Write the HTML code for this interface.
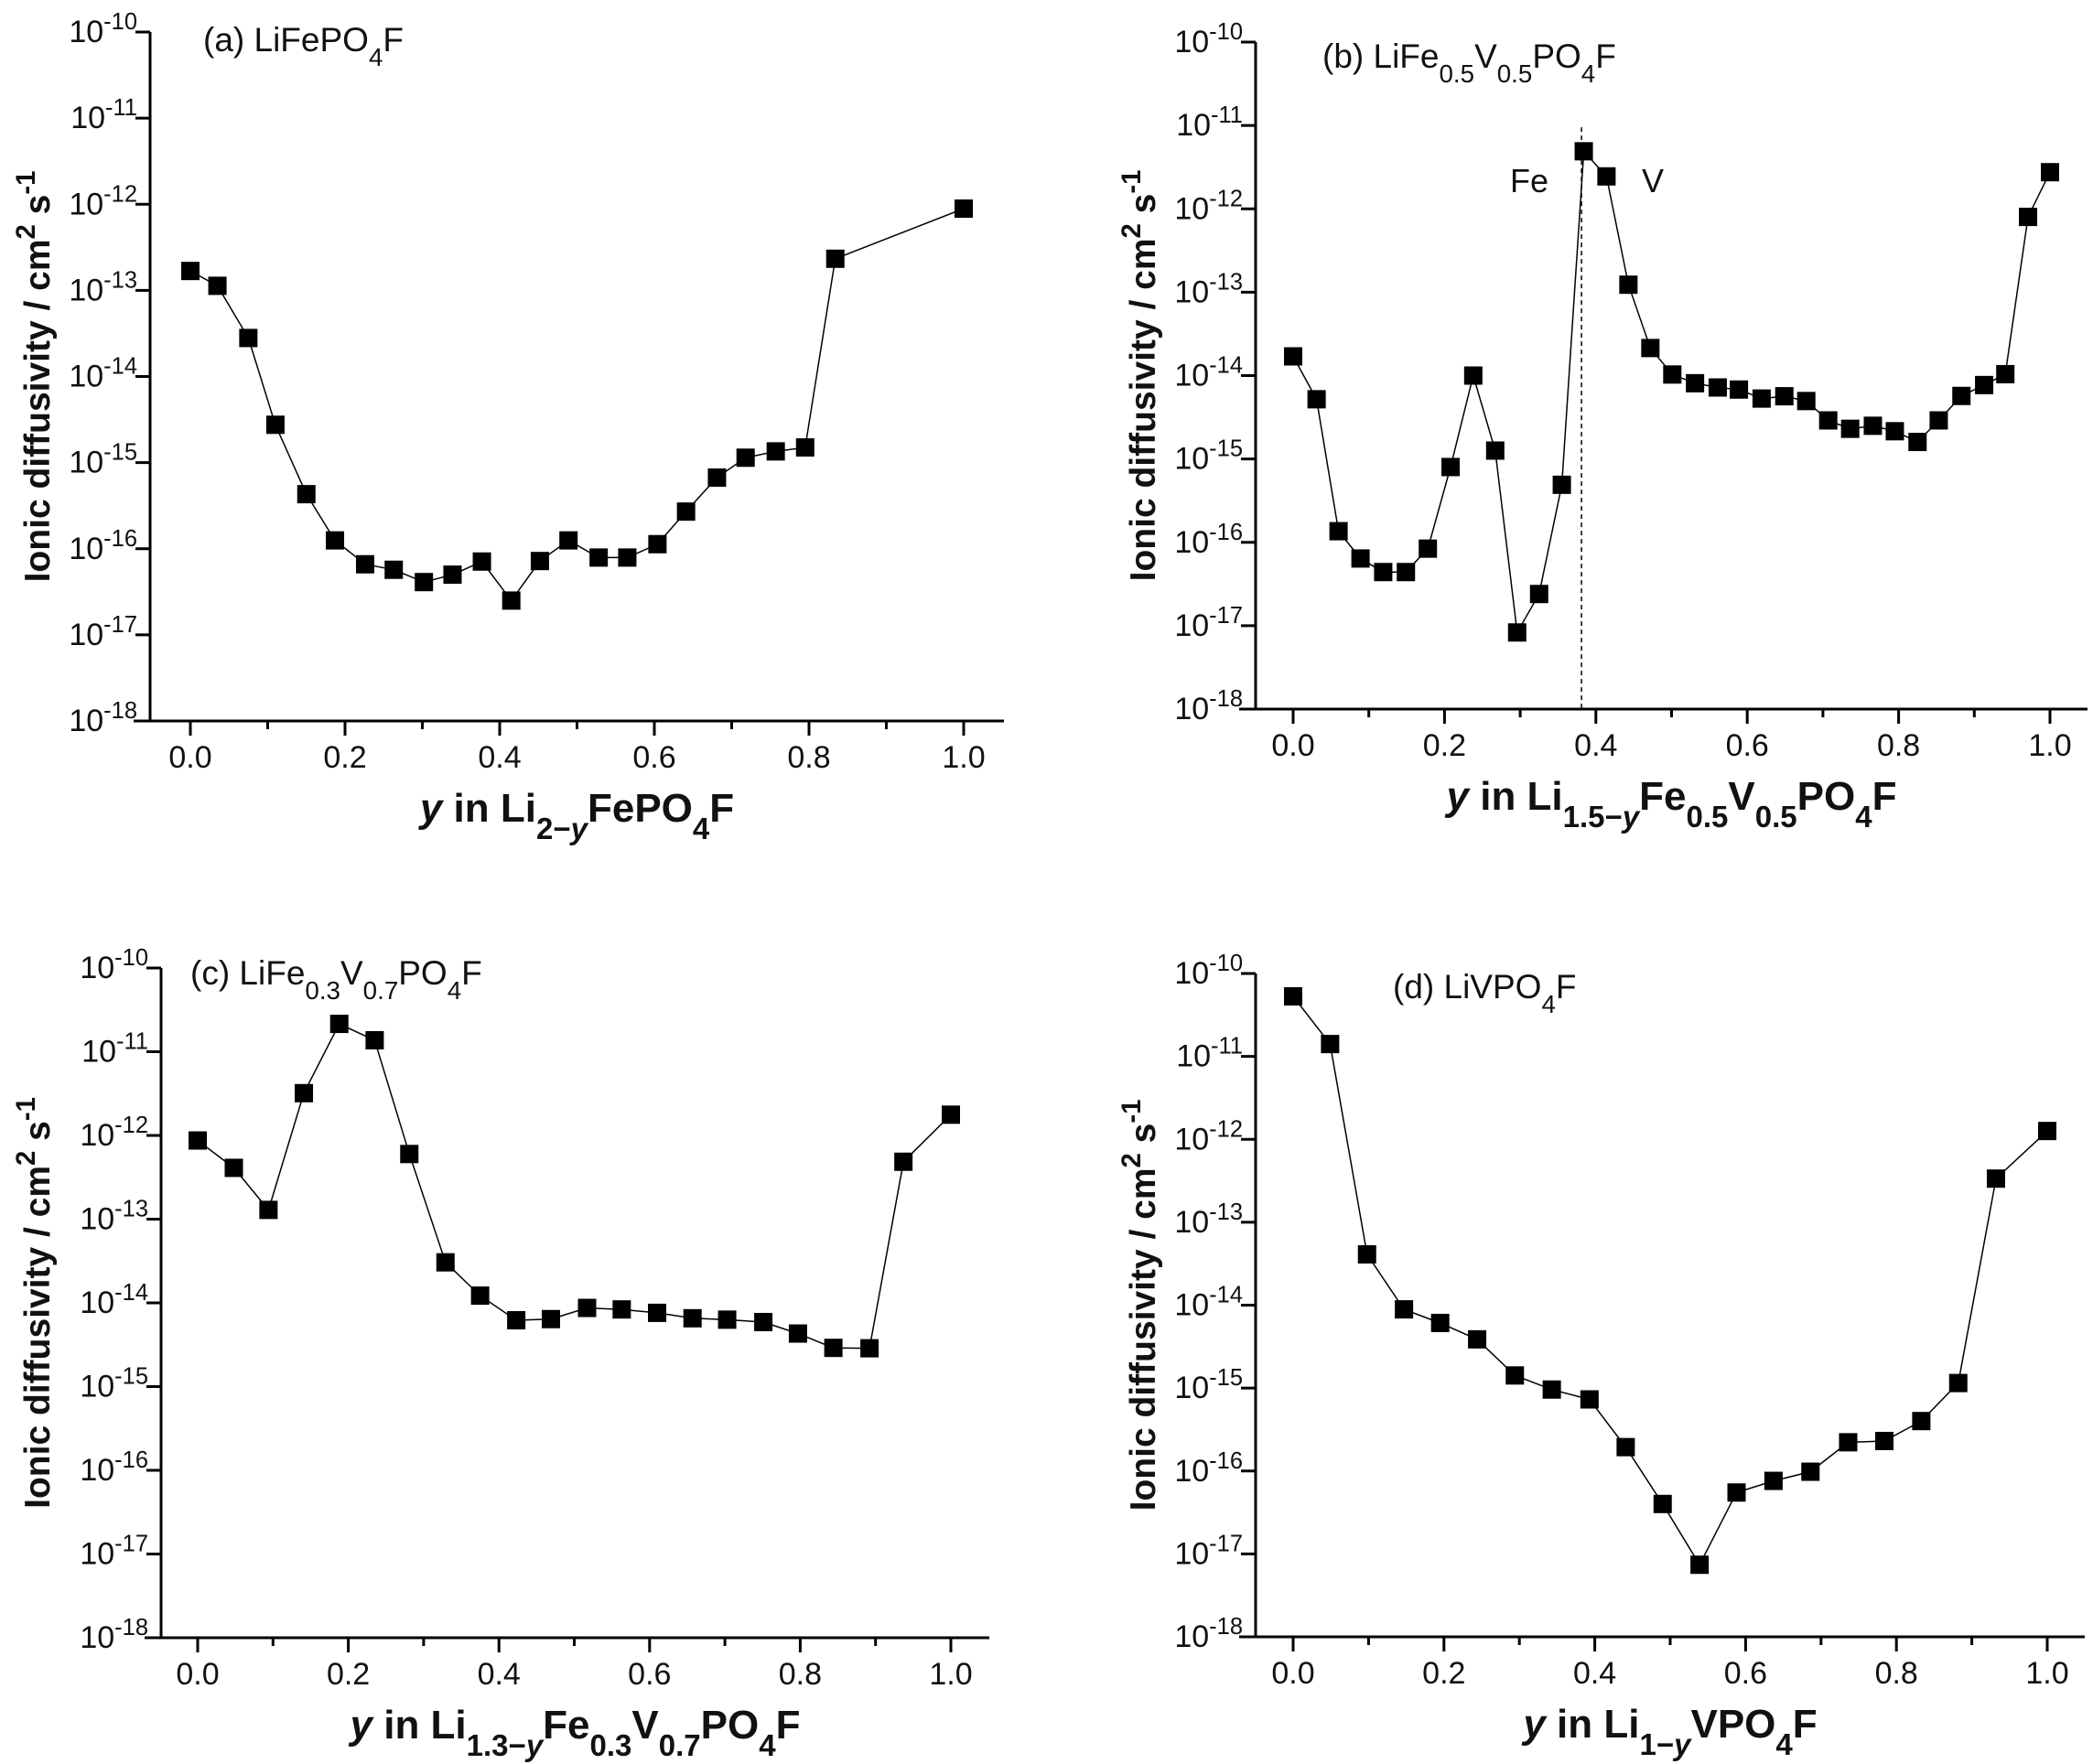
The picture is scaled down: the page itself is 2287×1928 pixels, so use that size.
<!DOCTYPE html>
<html><head><meta charset="utf-8"><style>
html,body{margin:0;padding:0;background:#fff;}
svg{display:block;font-family:"Liberation Sans",Arial,sans-serif;}
</style></head><body>
<svg id="fig" xmlns="http://www.w3.org/2000/svg" width="2287" height="1928" viewBox="0 0 2287 1928">
<rect width="2287" height="1928" fill="#fff"/>
</svg>
<script>
// ---- data ----
const xA=[0,.035,.075,.110,.150,.187,.226,.263,.302,.339,.377,.415,.452,.489,.528,.565,.604,.641,.681,.718,.757,.795,.834,1.0];
const dA=[1.68e-13,1.13e-13,2.8e-14,2.75e-15,4.3e-16,1.25e-16,6.6e-17,5.7e-17,4.1e-17,5.0e-17,7.1e-17,2.5e-17,7.2e-17,1.25e-16,7.9e-17,7.9e-17,1.13e-16,2.7e-16,6.7e-16,1.14e-15,1.35e-15,1.5e-15,2.33e-13,8.9e-13];
const xB=[0,.031,.060,.089,.119,.149,.178,.208,.238,.267,.296,.325,.355,.384,.414,.443,.472,.501,.531,.561,.589,.619,.649,.678,.707,.736,.766,.795,.825,.853,.883,.913,.941,.971,1.0];
const dB=[1.7e-14,5.2e-15,1.36e-16,6.4e-17,4.4e-17,4.4e-17,8.4e-17,8.0e-16,1.0e-14,1.26e-15,8.3e-18,2.4e-17,4.9e-16,4.9e-12,2.45e-12,1.23e-13,2.14e-14,1.03e-14,8.1e-15,7.2e-15,6.8e-15,5.3e-15,5.65e-15,4.95e-15,2.9e-15,2.3e-15,2.5e-15,2.15e-15,1.6e-15,2.9e-15,5.7e-15,7.7e-15,1.04e-14,8.0e-13,2.75e-12];
const xC=[0,.048,.094,.141,.188,.235,.281,.329,.375,.423,.469,.517,.563,.610,.657,.703,.751,.797,.844,.892,.937,1.0];
const dC=[8.7e-13,4.1e-13,1.29e-13,3.2e-12,2.15e-11,1.37e-11,6.0e-13,3.05e-14,1.22e-14,6.2e-15,6.4e-15,8.7e-15,8.35e-15,7.6e-15,6.55e-15,6.3e-15,5.9e-15,4.3e-15,2.9e-15,2.87e-15,4.85e-13,1.77e-12];
const xD=[0,.049,.098,.147,.195,.244,.294,.343,.393,.441,.490,.539,.588,.637,.686,.736,.784,.833,.882,.932,1.0];
const dD=[5.3e-11,1.41e-11,4.1e-14,8.9e-15,6.1e-15,3.87e-15,1.42e-15,9.6e-16,7.3e-16,1.94e-16,4.0e-17,7.4e-18,5.5e-17,7.6e-17,9.8e-17,2.22e-16,2.3e-16,4.0e-16,1.15e-15,3.36e-13,1.26e-12];
const yExps=[-10,-11,-12,-13,-14,-15,-16,-17,-18];
const xTicks=[0,0.2,0.4,0.6,0.8,1.0];
const xTickLabels=["0.0","0.2","0.4","0.6","0.8","1.0"];
const dividerB=0.381;

const NS="http://www.w3.org/2000/svg";
const svg=document.getElementById('fig');
function mk(tag,attrs,parent){const e=document.createElementNS(NS,tag);for(const k in attrs)e.setAttribute(k,attrs[k]);(parent||svg).appendChild(e);return e;}
function rich(t,parts){parts.forEach(p=>{const s=document.createElementNS(NS,'tspan');s.textContent=p[0];if(p[1]==='sub'){s.setAttribute('baseline-shift','sub');s.setAttribute('font-size','75%');}if(p[1]==='sup'){s.setAttribute('baseline-shift','super');s.setAttribute('font-size','75%');}if(p[2])s.setAttribute('font-style','italic');t.appendChild(s);});}

const panels=[
 {id:'a',ax:164,x0:208,x1:1053,right:1097,top:35,bot:788,tx:40,xs:xA,ds:dA,
  label:[["(a) LiFePO"],["4","sub"],["F"]],lx:222,ly:56,
  xt:[["y","",1],[" in Li"],["2\u2212","sub"],["y","sub",1],["FePO"],["4","sub"],["F"]]},
 {id:'b',ax:1372,x0:1413,x1:2240,right:2281,top:46,bot:775,tx:1248,xs:xB,ds:dB,
  label:[["(b) LiFe"],["0.5","sub"],["V"],["0.5","sub"],["PO"],["4","sub"],["F"]],lx:1445,ly:74,
  xt:[["y","",1],[" in Li"],["1.5\u2212","sub"],["y","sub",1],["Fe"],["0.5","sub"],["V"],["0.5","sub"],["PO"],["4","sub"],["F"]]},
 {id:'c',ax:176,x0:216,x1:1039,right:1081,top:1058,bot:1790,tx:40,xs:xC,ds:dC,
  label:[["(c) LiFe"],["0.3","sub"],["V"],["0.7","sub"],["PO"],["4","sub"],["F"]],lx:208,ly:1076,
  xt:[["y","",1],[" in Li"],["1.3\u2212","sub"],["y","sub",1],["Fe"],["0.3","sub"],["V"],["0.7","sub"],["PO"],["4","sub"],["F"]]},
 {id:'d',ax:1372,x0:1413,x1:2237,right:2278,top:1064,bot:1789,tx:1248,xs:xD,ds:dD,
  label:[["(d) LiVPO"],["4","sub"],["F"]],lx:1522,ly:1091,
  xt:[["y","",1],[" in Li"],["1\u2212","sub"],["y","sub",1],["VPO"],["4","sub"],["F"]]}
];

panels.forEach(p=>{
 const g=mk('g',{});
 
 
 const X=v=>p.x0+(p.x1-p.x0)*v;
 const Y=d=>p.top+(p.bot-p.top)*((-10-Math.log10(d))/8);
 const YE=e=>p.top+(p.bot-p.top)*((-10-e)/8);
 const ya=mk('line',{x1:p.ax,y1:p.top,x2:p.ax,y2:p.bot,stroke:'#000','stroke-width':3},g);
 
 
 const xa=mk('line',{x1:p.ax-18,y1:p.bot,x2:p.right,y2:p.bot,stroke:'#000','stroke-width':3},g);
 
 
 yExps.forEach(e=>{
  const y=YE(e);
  mk('line',{x1:p.ax-16,y1:y,x2:p.ax,y2:y,stroke:'#000','stroke-width':3},g);
  const t=mk('text',{x:p.ax-14,y:y+11,'text-anchor':'end','font-size':34,fill:'#111'},g);
  
  
  rich(t,[["10"],[String(e),"sup"]]);
 });
 for(let i=0;i<=10;i++){
  const x=X(i/10);
  mk('line',{x1:x,y1:p.bot,x2:x,y2:p.bot+(i%2?9:16),stroke:'#000','stroke-width':3},g);
 }
 xTicks.forEach((v,i)=>{
  const t=mk('text',{x:X(v),y:p.bot+51,'text-anchor':'middle','font-size':34,fill:'#111'},g);
  
  
  t.textContent=xTickLabels[i];
 });
 const xt=mk('text',{x:(p.ax+p.right)/2,y:p.bot+110,'text-anchor':'middle','font-size':44,'font-weight':'bold',fill:'#111'},g);
 
 
 rich(xt,p.xt);
 const ytg=mk('text',{transform:`translate(${p.tx+14},${(p.top+p.bot)/2}) rotate(-90)`,'text-anchor':'middle','font-size':39,'font-weight':'bold',fill:'#111'},g);
 
 
 rich(ytg,[["Ionic diffusivity / cm"],["2","sup"],[" s"],["-1","sup"]]);
 const lb=mk('text',{x:p.lx,y:p.ly,'font-size':37,fill:'#111'},g);
 
 
 rich(lb,p.label);
 if(p.id==='b'){
  const dl=mk('line',{x1:X(dividerB),y1:YE(-11)+2,x2:X(dividerB),y2:p.bot,stroke:'#000','stroke-width':1.5,'stroke-dasharray':'5,4'},g);
  
  
  const fe=mk('text',{x:1650,y:210,'font-size':36,fill:'#111'},g);
  
  
  fe.textContent='Fe';
  const vv=mk('text',{x:1794,y:210,'font-size':36,fill:'#111'},g);
  
  
  vv.textContent='V';
 }
 const pts=p.xs.map((v,i)=>X(v).toFixed(1)+','+Y(p.ds[i]).toFixed(1)).join(' ');
 const pl=mk('polyline',{points:pts,fill:'none',stroke:'#000','stroke-width':1.5},g);
 
 
 p.xs.forEach((v,i)=>{
  const r=mk('rect',{x:X(v)-10,y:Y(p.ds[i])-10,width:20,height:20,fill:'#000'},g);
  
  
 });
});
</script>
</body></html>
